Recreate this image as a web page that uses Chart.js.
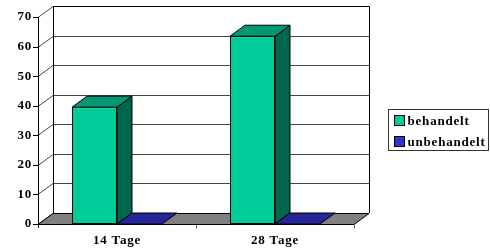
<!DOCTYPE html>
<html>
<head>
<meta charset="utf-8">
<script src="https://cdn.jsdelivr.net/npm/chart.js@4"></script>
<style>
  html, body { margin: 0; padding: 0; background: #fff; }
  #wrap { width: 490px; height: 248px; }
</style>
</head>
<body>
<div id="wrap"><canvas id="chart" width="490" height="248"></canvas></div>
<script>
// data
const categories = ['14 Tage', '28 Tage'];
const behandelt = [39.5, 63.5];
const unbehandelt = [0, 0];
const seriesNames = ['behandelt', 'unbehandelt'];

// colours: front, top, side
const greenFaces = ['#00CC99', '#009973', '#00664D'];
const blueFaces = ['#3333CC', '#262699', '#1A1A66'];

const DX = 15, DY = 11; // depth of the 3d box
const FONT = { family: '"Liberation Serif", "Times New Roman", serif', size: 13, weight: 'bold' };
const SPACING = '0.8px';

const box3d = {
    id: 'box3d',
    beforeLayout(chart) {
        chart.ctx.letterSpacing = SPACING;
    },
    beforeDatasetsDraw(chart) {
        const { ctx, chartArea: a, scales: { y } } = chart;
        ctx.save();
        // back wall
        ctx.fillStyle = '#fff';
        ctx.fillRect(a.left + DX, a.top - DY, a.right - a.left, a.bottom - a.top);
        // grid lines on side + back wall
        ctx.lineWidth = 1;
        y.ticks.forEach(t => {
            const py = Math.round(y.getPixelForValue(t.value)) + 0.5;
            ctx.strokeStyle = t.value === 0 ? '#000' : '#444';
            ctx.beginPath();
            ctx.moveTo(a.left, py);
            ctx.lineTo(a.left + DX, py - DY);
            ctx.lineTo(a.right + DX, py - DY);
            ctx.stroke();
            // tick mark
            ctx.strokeStyle = '#000';
            ctx.beginPath();
            ctx.moveTo(a.left - 5, py);
            ctx.lineTo(a.left, py);
            ctx.stroke();
        });
        // back wall outline
        ctx.strokeStyle = '#000';
        ctx.beginPath();
        ctx.moveTo(a.left + DX + 0.5, a.bottom - DY);
        ctx.lineTo(a.left + DX + 0.5, a.top - DY + 0.5);
        ctx.lineTo(a.right + DX + 0.5, a.top - DY + 0.5);
        ctx.lineTo(a.right + DX + 0.5, a.bottom - DY);
        ctx.stroke();
        // left front axis
        ctx.beginPath();
        ctx.moveTo(a.left + 0.5, a.top);
        ctx.lineTo(a.left + 0.5, a.bottom + 4);
        ctx.stroke();
        // floor
        const b = Math.round(a.bottom) + 0.5;
        ctx.fillStyle = '#808080';
        ctx.beginPath();
        ctx.moveTo(a.left, b);
        ctx.lineTo(a.right, b);
        ctx.lineTo(a.right + DX, b - DY);
        ctx.lineTo(a.left + DX, b - DY);
        ctx.closePath();
        ctx.fill();
        ctx.stroke();
        // category ticks under the floor
        ctx.strokeStyle = '#666';
        for (let i = 1; i <= categories.length; i++) {
            const px = Math.round(a.left + (a.right - a.left) * i / categories.length) + 0.5;
            ctx.beginPath();
            ctx.moveTo(px, b);
            ctx.lineTo(px, b + 4);
            ctx.stroke();
        }
        ctx.restore();
    },
    afterDatasetsDraw(chart) {
        const { ctx } = chart;
        const faces = [greenFaces, blueFaces];
        ctx.save();
        ctx.strokeStyle = '#000';
        ctx.lineWidth = 1;
        chart.data.datasets.forEach((ds, di) => {
            const meta = chart.getDatasetMeta(di);
            meta.data.forEach(el => {
                const p = el.getProps(['x', 'y', 'base', 'width'], true);
                const l = p.x - p.width / 2, r = p.x + p.width / 2;
                const top = p.y, base = p.base;
                // side face
                if (base - top > 0.5) {
                    ctx.fillStyle = faces[di][2];
                    ctx.beginPath();
                    ctx.moveTo(r, top);
                    ctx.lineTo(r + DX, top - DY);
                    ctx.lineTo(r + DX, base - DY);
                    ctx.lineTo(r, base);
                    ctx.closePath();
                    ctx.fill();
                    ctx.stroke();
                }
                // top face
                ctx.fillStyle = faces[di][1];
                ctx.beginPath();
                ctx.moveTo(l, top);
                ctx.lineTo(r, top);
                ctx.lineTo(r + DX, top - DY);
                ctx.lineTo(l + DX, top - DY);
                ctx.closePath();
                ctx.fill();
                ctx.stroke();
            });
        });
        ctx.restore();
    },
    afterDraw(chart) {
        // legend with a frame
        const { ctx, chartArea: a } = chart;
        const lx = Math.round(a.right + DX + 19) + 0.5, ly = 109.5, lw = 100, lh = 41;
        ctx.save();
        ctx.strokeStyle = '#333';
        ctx.lineWidth = 1;
        ctx.strokeRect(lx, ly, lw, lh);
        ctx.font = `${FONT.weight} ${FONT.size}px ${FONT.family}`;
        ctx.letterSpacing = SPACING;
        ctx.textBaseline = 'middle';
        chart.data.datasets.forEach((ds, i) => {
            const cy = ly + 11 + i * 21;
            ctx.fillStyle = ds.backgroundColor;
            ctx.fillRect(lx + 6, cy - 5, 10, 10);
            ctx.strokeStyle = '#000';
            ctx.strokeRect(lx + 6, cy - 5, 10, 10);
            ctx.fillStyle = '#000';
            ctx.fillText(ds.label, lx + 19, cy + 1);
        });
        ctx.restore();
    }
};

new Chart(document.getElementById('chart').getContext('2d'), {
    type: 'bar',
    data: {
        labels: categories,
        datasets: [{
            label: seriesNames[0],
            data: behandelt,
            backgroundColor: greenFaces[0],
            borderColor: '#000',
            borderWidth: 1,
            borderSkipped: false,
            categoryPercentage: 0.57,
            barPercentage: 1
        }, {
            label: seriesNames[1],
            data: unbehandelt,
            backgroundColor: blueFaces[0],
            borderColor: '#000',
            borderWidth: 0,
            categoryPercentage: 0.57,
            barPercentage: 1
        }]
    },
    options: {
        responsive: false,
        animation: false,
        layout: { padding: { top: 17, right: 136, left: 0, bottom: 0 } },
        plugins: {
            legend: { display: false },
            tooltip: { enabled: false }
        },
        scales: {
            x: {
                grid: { display: false, drawTicks: false },
                border: { display: false },
                ticks: { color: '#000', font: FONT, padding: 9 },
                afterFit(s) { s.height = 24; }
            },
            y: {
                min: 0,
                max: 70,
                grid: { display: false, drawTicks: false },
                border: { display: false },
                ticks: { stepSize: 10, color: '#000', font: FONT, padding: 6 },
                afterFit(s) { s.width = 38; }
            }
        }
    },
    plugins: [box3d]
});
</script>
</body>
</html>
